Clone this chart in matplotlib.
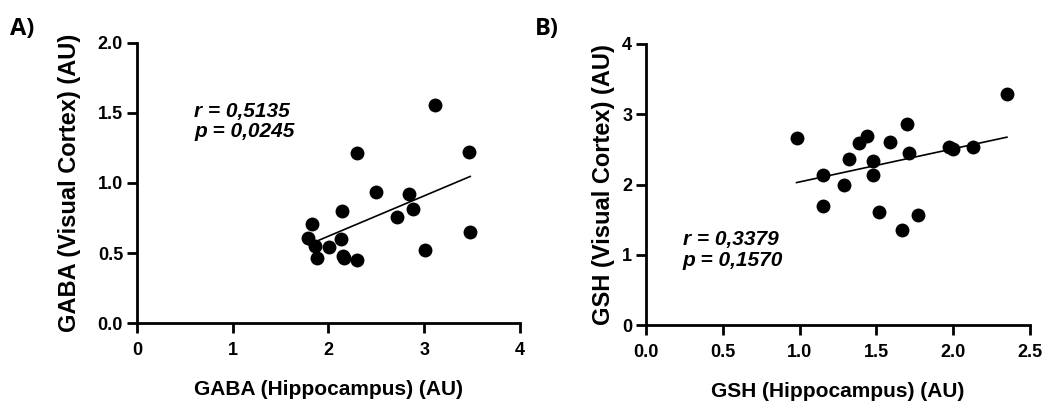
import numpy as np
import matplotlib
matplotlib.use("Agg")
import matplotlib.pyplot as plt

plt.rcParams['font.family'] = ['Liberation Sans', 'DejaVu Sans']
plt.rcParams['font.weight'] = 'bold'

# Panel A: GABA
gaba_hip = [3.11, 2.30, 3.47, 2.50, 2.84, 2.88, 2.72, 2.14, 1.83, 1.79,
            1.86, 2.01, 2.13, 1.88, 2.16, 2.30, 3.01, 3.48, 2.15]
gaba_vc = [1.557, 1.216, 1.221, 0.933, 0.919, 0.812, 0.757, 0.80, 0.709, 0.605,
           0.55, 0.545, 0.602, 0.464, 0.462, 0.45, 0.521, 0.648, 0.48]

# Panel B: GSH
gsh_hip = [2.35, 0.98, 1.70, 1.44, 1.39, 1.59, 1.32, 1.48, 1.71, 1.97,
           2.00, 2.13, 1.15, 1.48, 1.29, 1.15, 1.52, 1.77, 1.67]
gsh_vc = [3.29, 2.66, 2.86, 2.69, 2.59, 2.60, 2.37, 2.34, 2.45, 2.54,
          2.51, 2.54, 2.14, 2.14, 2.00, 1.69, 1.61, 1.56, 1.35]

fig = plt.figure(figsize=(10.45, 4.01), dpi=100)
axA = fig.add_axes([0.1311, 0.1945, 0.3665, 0.6983])
axB = fig.add_axes([0.6182, 0.1895, 0.3674, 0.7008])


def style_axis(ax, xlim, ylim, xticks, yticks, xfmt, yfmt):
    ax.set_xlim(*xlim)
    ax.set_ylim(*ylim)
    ax.set_xticks(xticks)
    ax.set_yticks(yticks)
    ax.set_xticklabels([xfmt.format(v) for v in xticks])
    ax.set_yticklabels([yfmt.format(v) for v in yticks])
    for s in ['top', 'right']:
        ax.spines[s].set_visible(False)
    for s in ['left', 'bottom']:
        ax.spines[s].set_linewidth(2)
    ax.tick_params(width=2, length=7, labelsize=13)
    ax.tick_params(axis='x', pad=7)
    ax.tick_params(axis='y', pad=3)
    for lab in ax.get_xticklabels() + ax.get_yticklabels():
        lab.set_fontweight('bold')


def scatter_fit(ax, x, y):
    x = np.array(x)
    y = np.array(y)
    ax.scatter(x, y, s=100, color='black', zorder=3, clip_on=False, linewidths=0)
    k, d = np.polyfit(x, y, 1)
    xs = np.array([x.min(), x.max()])
    ax.plot(xs, k * xs + d, color='black', lw=1.2)


scatter_fit(axA, gaba_hip, gaba_vc)
style_axis(axA, (0, 4), (0, 2), [0, 1, 2, 3, 4], [0, 0.5, 1.0, 1.5, 2.0], "{:g}", "{:.1f}")
axA.set_xlabel("GABA (Hippocampus) (AU)", fontsize=15, fontweight='bold', labelpad=15)
axA.set_ylabel("GABA (Visual Cortex) (AU)", fontsize=17, fontweight='bold', labelpad=12)
axA.text(0.6, 1.44, "r = 0,5135\np = 0,0245", fontsize=15, fontweight='bold',
         fontstyle='italic', va='center', ha='left', linespacing=1.1)

scatter_fit(axB, gsh_hip, gsh_vc)
style_axis(axB, (0, 2.5), (0, 4), [0, 0.5, 1.0, 1.5, 2.0, 2.5], [0, 1, 2, 3, 4], "{:.1f}", "{:g}")
axB.set_xlabel("GSH (Hippocampus) (AU)", fontsize=15, fontweight='bold', labelpad=15)
axB.set_ylabel("GSH (Visual Cortex) (AU)", fontsize=17, fontweight='bold', labelpad=5)
axB.text(0.24, 1.07, "r = 0,3379\np = 0,1570", fontsize=15, fontweight='bold',
         fontstyle='italic', va='center', ha='left', linespacing=1.1)

fig.text(0.010, 0.912, "A)", fontsize=17, fontweight='bold', va='baseline',
         family=['Open Sans', 'DejaVu Sans'])
fig.text(0.512, 0.912, "B)", fontsize=17, fontweight='bold', va='baseline',
         family=['Open Sans', 'DejaVu Sans'])

fig.savefig("out.png", dpi=100)
